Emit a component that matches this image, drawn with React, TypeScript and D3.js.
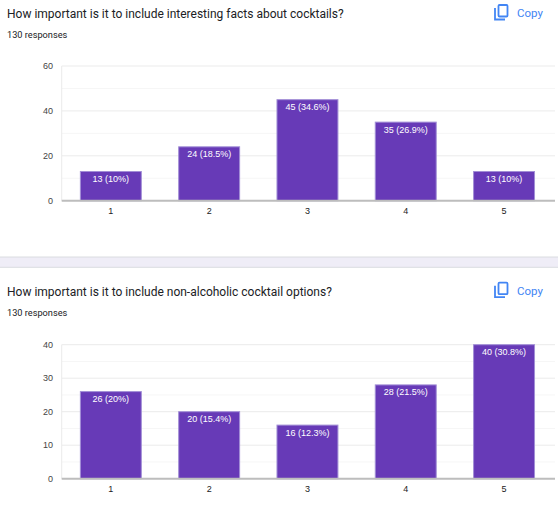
import * as d3 from "d3";

const categories = ["1", "2", "3", "4", "5"];

const factsTitle = "How important is it to include interesting facts about cocktails?";
const factsValues = [13, 24, 45, 35, 13];
const factsLabels = ["13 (10%)", "24 (18.5%)", "45 (34.6%)", "35 (26.9%)", "13 (10%)"];
const factsTicks = [0, 20, 40, 60];

const nonAlcTitle = "How important is it to include non-alcoholic cocktail options?";
const nonAlcValues = [26, 20, 16, 28, 40];
const nonAlcLabels = ["26 (20%)", "20 (15.4%)", "16 (12.3%)", "28 (21.5%)", "40 (30.8%)"];
const nonAlcTicks = [0, 10, 20, 30, 40];

const responses = "130 responses";

const W = 558;
const H = 508;
const PURPLE = "#673ab7";
const BLUE = "#4285f4";
const AXIS_FONT = "Arial, 'Liberation Sans', sans-serif";
const TITLE_FONT = "Roboto, 'Noto Sans', sans-serif";

interface PanelProps {
  title: string;
  values: number[];
  labels: string[];
  ticks: number[];
  top: number; // y of title centre
  plotTop: number;
  plotBottom: number;
}

const CopyButton = ({ y }: { y: number }) => (
  <g transform={`translate(494,${y})`}>
    {/* front sheet */}
    <rect x={4.5} y={1} width={9} height={11.5} fill="none" stroke={BLUE} strokeWidth={1.8} rx={1} />
    {/* back sheet */}
    <path d="M1,4 V15.5 H11" fill="none" stroke={BLUE} strokeWidth={1.8} />
    <text x={23} y={13} fontFamily={TITLE_FONT} fontSize={11.5} fill={BLUE}>
      Copy
    </text>
  </g>
);

const BarPanel = ({ title, values, labels, ticks, top, plotTop, plotBottom }: PanelProps) => {
  const left = 61.7;
  const right = 555;
  const x = d3
    .scaleBand<string>()
    .domain(categories)
    .range([left, 553.2])
    .paddingInner(0.38)
    .paddingOuter(0.19);
  const maxTick = ticks[ticks.length - 1];
  const y = d3.scaleLinear().domain([0, maxTick]).range([plotBottom, plotTop]);
  const step = ticks[1] - ticks[0];
  const minor = d3.range(step / 2, maxTick, step);

  return (
    <g>
      <text x={7} y={top + 4.3} fontFamily={TITLE_FONT} fontSize={12} fill="#202124">
        {title}
      </text>
      <text x={7} y={top + 24.3} fontFamily={TITLE_FONT} fontSize={9.2} fill="#202124">
        {responses}
      </text>
      <CopyButton y={top - 10} />

      {/* gridlines */}
      {minor.map((t) => (
        <line key={`m${t}`} x1={left} x2={right} y1={y(t)} y2={y(t)} stroke="#f6f6f6" />
      ))}
      {ticks.slice(1).map((t) => (
        <line key={`g${t}`} x1={left} x2={right} y1={y(t)} y2={y(t)} stroke="#ebebeb" />
      ))}
      <line x1={left} x2={left} y1={plotTop} y2={plotBottom} stroke="#ebebeb" />

      {/* y tick labels */}
      {ticks.map((t) => (
        <text
          key={`t${t}`}
          x={53}
          y={y(t) + 3}
          textAnchor="end"
          fontFamily={AXIS_FONT}
          fontSize={9}
          fill="#444"
        >
          {t}
        </text>
      ))}

      {/* bars */}
      {values.map((v, i) => (
        <g key={categories[i]}>
          <rect
            x={x(categories[i])!}
            y={y(v)}
            width={x.bandwidth()}
            height={plotBottom - y(v)}
            fill={PURPLE}
            stroke="#a28fd6"
            strokeWidth={1}
          />
          <text
            x={x(categories[i])! + x.bandwidth() / 2}
            y={y(v) + 10.5}
            textAnchor="middle"
            fontFamily={AXIS_FONT}
            fontSize={9}
            fill="#fff"
          >
            {labels[i]}
          </text>
          <text
            x={x(categories[i])! + x.bandwidth() / 2}
            y={plotBottom + 13}
            textAnchor="middle"
            fontFamily={AXIS_FONT}
            fontSize={9}
            fill="#222"
          >
            {categories[i]}
          </text>
        </g>
      ))}

      {/* baseline */}
      <line x1={left} x2={right} y1={plotBottom} y2={plotBottom} stroke="#bdbdbd" strokeWidth={2} />
    </g>
  );
};

export default function App() {
  return (
    <svg
      width={W}
      height={H}
      style={{ position: "absolute", left: 0, top: 0, background: "#fff" }}
    >
      <BarPanel
        title={factsTitle}
        values={factsValues}
        labels={factsLabels}
        ticks={factsTicks}
        top={14}
        plotTop={66}
        plotBottom={200.7}
      />

      {/* card separator */}
      <rect x={0} y={257} width={W} height={10.3} fill="#efedf7" />
      <line x1={0} x2={W} y1={257} y2={257} stroke="#dadce0" />
      <line x1={0} x2={W} y1={267.3} y2={267.3} stroke="#dadce0" />

      <BarPanel
        title={nonAlcTitle}
        values={nonAlcValues}
        labels={nonAlcLabels}
        ticks={nonAlcTicks}
        top={291.7}
        plotTop={344.7}
        plotBottom={478.7}
      />
    </svg>
  );
}
